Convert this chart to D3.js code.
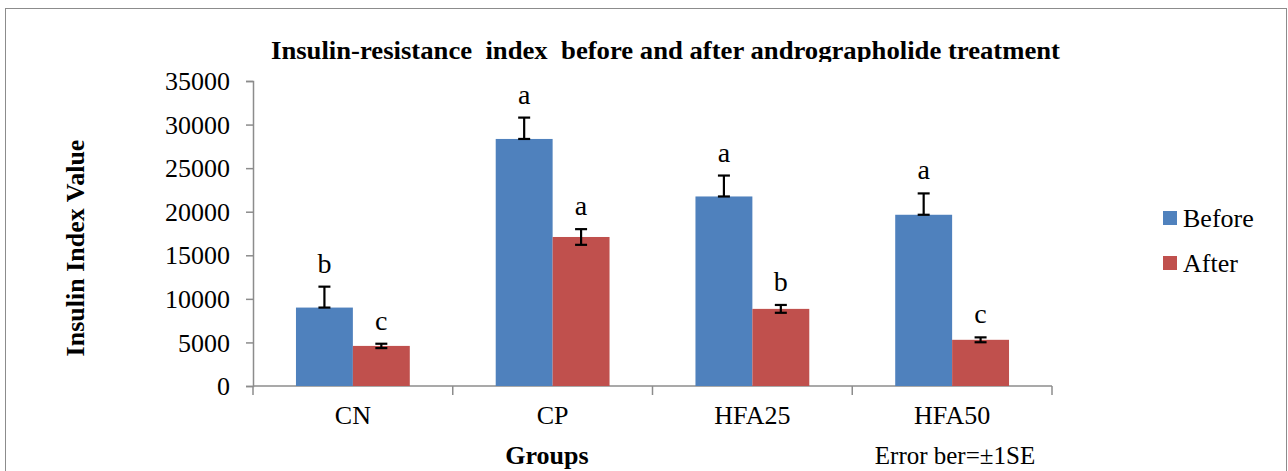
<!DOCTYPE html>
<html>
<head>
<meta charset="utf-8">
<script src="https://cdn.jsdelivr.net/npm/d3@7"></script>
<style>
  body { margin: 0; background: #fff; }
  text { font-family: "Liberation Serif", "Times New Roman", serif; fill: #000; }
</style>
</head>
<body>
<div class="plot"></div>
<script>
// data
var groups = ["CN", "CP", "HFA25", "HFA50"];
var series = ["Before", "After"];
var before = [9000, 28350, 21750, 19650];
var after = [4600, 17100, 8850, 5300];
var errBefore = [2400, 2450, 2400, 2450];
var errAfter = [250, 900, 450, 280];
var lettersBefore = ["b", "a", "a", "a"];
var lettersAfter = ["c", "a", "b", "c"];
var yTicks = [0, 5000, 10000, 15000, 20000, 25000, 30000, 35000];
var colors = ["#4f81bd", "#c0504d"];

var width = 1288, height = 471;
var margin = {top: 81, left: 253, right: 236, bottom: 85};

var svg = d3.select(".plot")
  .append("svg")
  .attr("width", width)
  .attr("height", height);

// outer frame
svg.append("rect")
  .attr("x", 5.5).attr("y", 8.5)
  .attr("width", 1281).attr("height", 480)
  .attr("fill", "none")
  .attr("stroke", "#8c8c8c")
  .attr("stroke-width", 1);

var x0 = d3.scaleBand()
  .domain(groups)
  .range([margin.left, width - margin.right]);

var x1 = d3.scaleBand()
  .domain(series)
  .range([0, x0.bandwidth()])
  .paddingInner(0)
  .paddingOuter(0.755);

var y = d3.scaleLinear()
  .domain([0, 35000])
  .range([height - margin.bottom, margin.top]);

var rows = groups.map(function(g, i) {
  return [
    {group: g, key: "Before", value: before[i], err: errBefore[i], letter: lettersBefore[i], lowerErr: false},
    {group: g, key: "After", value: after[i], err: errAfter[i], letter: lettersAfter[i], lowerErr: true}
  ];
});

// y axis
var yAxis = svg.append("g")
  .attr("transform", "translate(" + margin.left + ",0)")
  .call(d3.axisLeft(y).tickValues(yTicks).tickSize(7).tickPadding(16).tickFormat(d3.format("d")));
yAxis.select(".domain").attr("stroke", "#8c8c8c").attr("stroke-width", 1.5);
yAxis.selectAll(".tick line").attr("stroke", "#8c8c8c").attr("stroke-width", 1.5);
yAxis.selectAll(".tick text").style("font-size", "26px").attr("dy", "0.33em");

// x axis (ticks between groups)
var xAxis = svg.append("g")
  .attr("transform", "translate(0," + y(0) + ")");
xAxis.append("line")
  .attr("x1", margin.left).attr("x2", width - margin.right)
  .attr("stroke", "#8c8c8c").attr("stroke-width", 1.5);
xAxis.selectAll(".xt")
  .data(groups.concat(["end"]))
  .enter().append("line")
  .attr("x1", function(d, i) { return i < groups.length ? x0(d) : width - margin.right; })
  .attr("x2", function(d, i) { return i < groups.length ? x0(d) : width - margin.right; })
  .attr("y1", 0).attr("y2", 9)
  .attr("stroke", "#8c8c8c").attr("stroke-width", 1.5);
xAxis.selectAll(".xl")
  .data(groups)
  .enter().append("text")
  .attr("x", function(d) { return x0(d) + x0.bandwidth() / 2; })
  .attr("y", 38)
  .attr("text-anchor", "middle")
  .style("font-size", "26px")
  .text(function(d) { return d; });

// bars
var grp = svg.selectAll(".grp")
  .data(rows)
  .enter().append("g")
  .attr("transform", function(d) { return "translate(" + x0(d[0].group) + ",0)"; });

grp.selectAll("rect")
  .data(function(d) { return d; })
  .enter().append("rect")
  .attr("x", function(d) { return x1(d.key); })
  .attr("y", function(d) { return y(d.value); })
  .attr("width", x1.bandwidth())
  .attr("height", function(d) { return y(0) - y(d.value); })
  .attr("fill", function(d) { return colors[series.indexOf(d.key)]; });

// error bars
var eb = grp.selectAll(".eb")
  .data(function(d) { return d; })
  .enter().append("g")
  .attr("stroke", "#000")
  .attr("stroke-width", 2.2);
function cx(d) { return x1(d.key) + x1.bandwidth() / 2; }
function lo(d) { return d.lowerErr ? y(d.value - d.err) : y(d.value); }
eb.append("line")
  .attr("x1", cx).attr("x2", cx)
  .attr("y1", lo)
  .attr("y2", function(d) { return y(d.value + d.err); });
eb.append("line")
  .attr("x1", function(d) { return cx(d) - 6; })
  .attr("x2", function(d) { return cx(d) + 6; })
  .attr("y1", function(d) { return y(d.value + d.err); })
  .attr("y2", function(d) { return y(d.value + d.err); });
eb.append("line")
  .attr("x1", function(d) { return cx(d) - 6; })
  .attr("x2", function(d) { return cx(d) + 6; })
  .attr("y1", lo).attr("y2", lo);

// significance letters
grp.selectAll(".lt")
  .data(function(d) { return d; })
  .enter().append("text")
  .attr("x", cx)
  .attr("y", function(d) { return y(d.value + d.err) - 14; })
  .attr("text-anchor", "middle")
  .style("font-size", "28px")
  .text(function(d) { return d.letter; });

// title, clipped at the bottom like the original
svg.append("clipPath").attr("id", "tclip")
  .append("rect").attr("x", 0).attr("y", 0).attr("width", width).attr("height", 62);
svg.append("text")
  .attr("clip-path", "url(#tclip)")
  .attr("x", 271).attr("y", 59)
  .attr("textLength", 789)
  .attr("lengthAdjust", "spacingAndGlyphs")
  .style("font-size", "26px")
  .style("font-weight", "bold")
  .style("white-space", "pre")
  .text("Insulin-resistance  index  before and after andrographolide treatment");

// axis titles
svg.append("text")
  .attr("transform", "translate(84,248) rotate(-90)")
  .attr("text-anchor", "middle")
  .style("font-size", "26px")
  .style("font-weight", "bold")
  .text("Insulin Index Value");

svg.append("text")
  .attr("x", 547).attr("y", 464)
  .attr("text-anchor", "middle")
  .style("font-size", "26px")
  .style("font-weight", "bold")
  .text("Groups");

svg.append("text")
  .attr("x", 955).attr("y", 464)
  .attr("text-anchor", "middle")
  .style("font-size", "25px")
  .text("Error ber=\u00b11SE");

// legend
var legend = svg.selectAll(".lg")
  .data(series)
  .enter().append("g")
  .attr("transform", function(d, i) { return "translate(1163," + (211 + i * 45) + ")"; });
legend.append("rect")
  .attr("width", 14).attr("height", 14)
  .attr("fill", function(d, i) { return colors[i]; });
legend.append("text")
  .attr("x", 20).attr("y", 7).attr("dy", "0.35em")
  .style("font-size", "26px")
  .text(function(d) { return d; });
</script>
</body>
</html>
